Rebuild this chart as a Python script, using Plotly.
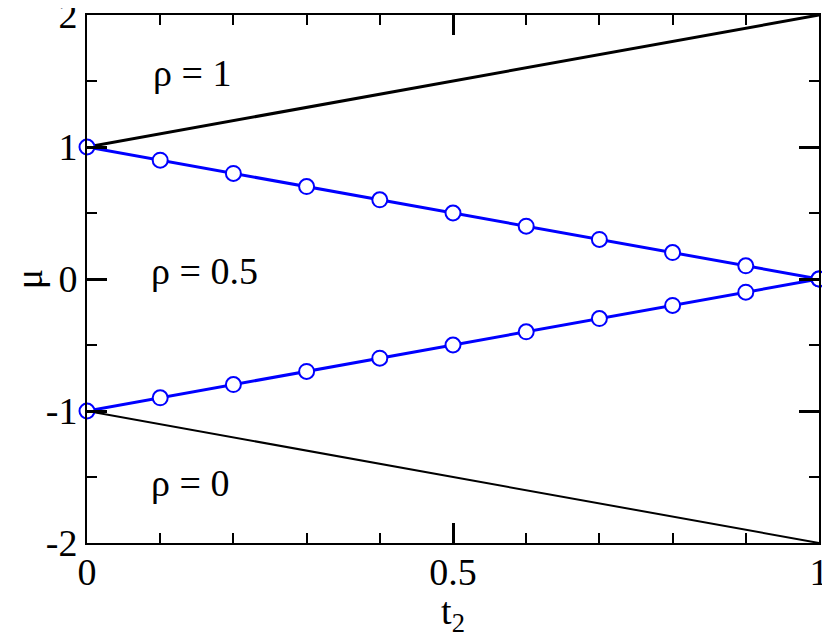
import plotly.graph_objects as go

# 数据
t2 = [0.0, 0.1, 0.2, 0.3, 0.4, 0.5, 0.6, 0.7, 0.8, 0.9, 1.0]
mu_upper_blue = [1.0, 0.9, 0.8, 0.7, 0.6, 0.5, 0.4, 0.3, 0.2, 0.1, 0.0]
mu_lower_blue = [-1.0, -0.9, -0.8, -0.7, -0.6, -0.5, -0.4, -0.3, -0.2, -0.1, 0.0]

t2_edge = [0.0, 1.0]
mu_upper_black = [1.0, 2.0]
mu_lower_black = [-1.0, -2.0]

x_ticks = [0, 0.5, 1]
x_labels = ["0", "0.5", "1"]
y_ticks = [-2, -1, 0, 1, 2]
y_labels = ["-2", "-1", "0", "1", "2"]

region_labels = ["ρ = 1", "ρ = 0.5", "ρ = 0"]
region_x = [0.143, 0.16, 0.141]
region_y = [1.561, 0.061, -1.545]

FONT = "Liberation Serif"
text_font = dict(family=FONT, size=38, color="black")

fig = go.Figure()

# 黑色边界线
fig.add_trace(go.Scatter(x=t2_edge, y=mu_upper_black, mode="lines",
                         line=dict(color="black", width=3), showlegend=False,
                         cliponaxis=False))
fig.add_trace(go.Scatter(x=t2_edge, y=mu_lower_black, mode="lines",
                         line=dict(color="black", width=2), showlegend=False,
                         cliponaxis=False))

# 蓝色带圆点的线
for mu in (mu_upper_blue, mu_lower_blue):
    fig.add_trace(go.Scatter(
        x=t2, y=mu, mode="lines+markers",
        line=dict(color="#0000ff", width=3),
        marker=dict(symbol="circle", size=15, color="white",
                    line=dict(color="#0000ff", width=2)),
        showlegend=False, cliponaxis=False,
    ))

for label, x, y in zip(region_labels, region_x, region_y):
    fig.add_annotation(x=x, y=y, text=label, showarrow=False, font=text_font)

fig.update_xaxes(
    range=[0, 1], tickmode="array", tickvals=x_ticks, ticktext=x_labels,
    minor=dict(dtick=0.1, ticks="inside", ticklen=10, tickwidth=2, tickcolor="black"),
    title=dict(text="t<sub>2</sub>", font=text_font, standoff=0),
    showgrid=False, zeroline=False, showline=True, linecolor="black", linewidth=2,
    mirror="ticks", ticks="inside", ticklen=20, tickwidth=2.5, tickcolor="black",
    tickfont=text_font, ticklabelstandoff=-6,
)
fig.update_yaxes(
    range=[-2, 2], tickmode="array", tickvals=y_ticks, ticktext=y_labels,
    minor=dict(dtick=0.5, ticks="inside", ticklen=10, tickwidth=2, tickcolor="black"),
    title=dict(text="μ", font=text_font, standoff=50),
    showgrid=False, zeroline=False, showline=True, linecolor="black", linewidth=2,
    mirror="ticks", ticks="inside", ticklen=20, tickwidth=2.5, tickcolor="black",
    tickfont=text_font, ticklabeloverflow="allow",
)

# 页面 body 默认有 8px 边距，这里按此偏移调整
fig.update_layout(
    width=822, height=630,
    margin=dict(l=79, r=11, t=7, b=95, autoexpand=False),
    plot_bgcolor="white", paper_bgcolor="white",
)

fig.write_html("out.html")
